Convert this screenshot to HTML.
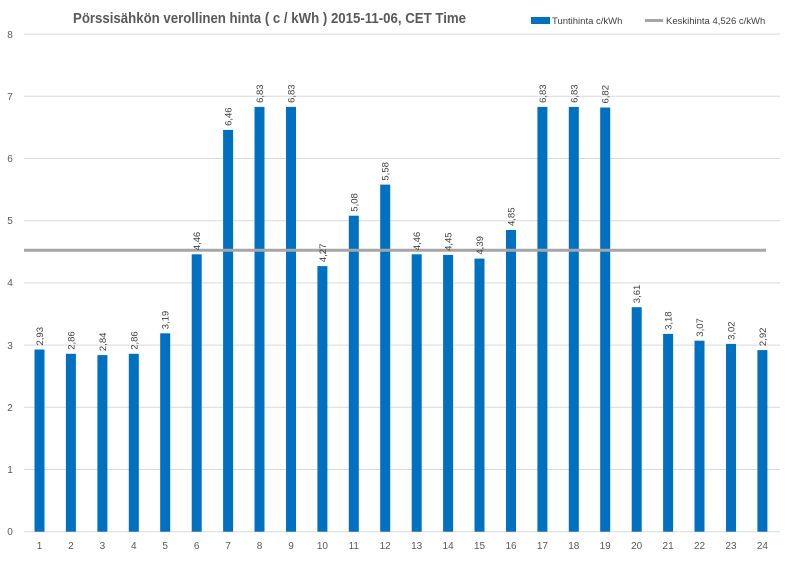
<!DOCTYPE html>
<html><head><meta charset="utf-8"><style>body{margin:0;background:#fff}svg{display:block;font-family:"Liberation Sans",sans-serif}</style></head><body>
<svg width="800" height="566" viewBox="0 0 800 566">
<rect width="800" height="566" fill="#fff"/>
<text x="73" y="23" font-size="14.5" font-weight="bold" fill="#595959" textLength="393" lengthAdjust="spacingAndGlyphs">Pörssisähkön verollinen hinta ( c / kWh ) 2015-11-06, CET Time</text>
<rect x="531" y="17" width="19" height="7" fill="#0070c0"/>
<text x="552" y="24" font-size="9.5" fill="#404040">Tuntihinta c/kWh</text>
<line x1="645" y1="20.5" x2="663" y2="20.5" stroke="#a6a6a6" stroke-width="3"/>
<text x="666" y="24" font-size="9.5" fill="#404040">Keskihinta 4,526 c/kWh</text>
<g stroke="#d9d9d9" stroke-width="1">
<line x1="24" y1="34.1" x2="780" y2="34.1"/><line x1="24" y1="96.3" x2="780" y2="96.3"/><line x1="24" y1="158.5" x2="780" y2="158.5"/><line x1="24" y1="220.7" x2="780" y2="220.7"/><line x1="24" y1="282.9" x2="780" y2="282.9"/><line x1="24" y1="345.1" x2="780" y2="345.1"/><line x1="24" y1="407.3" x2="780" y2="407.3"/><line x1="24" y1="469.5" x2="780" y2="469.5"/><line x1="24" y1="531.7" x2="780" y2="531.7"/>
</g>
<g font-size="10" fill="#595959" text-anchor="middle">
<text x="10" y="38">8</text><text x="10" y="100">7</text><text x="10" y="162">6</text><text x="10" y="224">5</text><text x="10" y="286">4</text><text x="10" y="349">3</text><text x="10" y="411">2</text><text x="10" y="473">1</text><text x="10" y="535">0</text>
</g>
<g fill="#0070c0">
<rect x="34.5" y="349.5" width="10" height="182.2"/><rect x="65.9" y="353.8" width="10" height="177.9"/><rect x="97.4" y="355.1" width="10" height="176.6"/><rect x="128.8" y="353.8" width="10" height="177.9"/><rect x="160.2" y="333.3" width="10" height="198.4"/><rect x="191.7" y="254.3" width="10" height="277.4"/><rect x="223.1" y="129.9" width="10" height="401.8"/><rect x="254.5" y="106.9" width="10" height="424.8"/><rect x="286" y="106.9" width="10" height="424.8"/><rect x="317.4" y="266.1" width="10" height="265.6"/><rect x="348.8" y="215.7" width="10" height="316"/><rect x="380.2" y="184.6" width="10" height="347.1"/><rect x="411.7" y="254.3" width="10" height="277.4"/><rect x="443.1" y="254.9" width="10" height="276.8"/><rect x="474.5" y="258.6" width="10" height="273.1"/><rect x="506" y="230" width="10" height="301.7"/><rect x="537.4" y="106.9" width="10" height="424.8"/><rect x="568.8" y="106.9" width="10" height="424.8"/><rect x="600.2" y="107.5" width="10" height="424.2"/><rect x="631.7" y="307.2" width="10" height="224.5"/><rect x="663.1" y="333.9" width="10" height="197.8"/><rect x="694.5" y="340.7" width="10" height="191"/><rect x="726" y="343.9" width="10" height="187.8"/><rect x="757.4" y="350.1" width="10" height="181.6"/>
</g>
<line x1="24" y1="250.2" x2="766" y2="250.2" stroke="#a6a6a6" stroke-width="3"/>
<g font-size="9.5" fill="#404040">
<text transform="translate(43,345.5) rotate(-90)">2,93</text>
<text transform="translate(74.4,349.8) rotate(-90)">2,86</text>
<text transform="translate(105.9,351.1) rotate(-90)">2,84</text>
<text transform="translate(137.3,349.8) rotate(-90)">2,86</text>
<text transform="translate(168.7,329.3) rotate(-90)">3,19</text>
<text transform="translate(200.2,250.3) rotate(-90)">4,46</text>
<text transform="translate(231.6,125.9) rotate(-90)">6,46</text>
<text transform="translate(263,102.9) rotate(-90)">6,83</text>
<text transform="translate(294.5,102.9) rotate(-90)">6,83</text>
<text transform="translate(325.9,262.1) rotate(-90)">4,27</text>
<text transform="translate(357.3,211.7) rotate(-90)">5,08</text>
<text transform="translate(388.7,180.6) rotate(-90)">5,58</text>
<text transform="translate(420.2,250.3) rotate(-90)">4,46</text>
<text transform="translate(451.6,250.9) rotate(-90)">4,45</text>
<text transform="translate(483,254.6) rotate(-90)">4,39</text>
<text transform="translate(514.5,226) rotate(-90)">4,85</text>
<text transform="translate(545.9,102.9) rotate(-90)">6,83</text>
<text transform="translate(577.3,102.9) rotate(-90)">6,83</text>
<text transform="translate(608.7,103.5) rotate(-90)">6,82</text>
<text transform="translate(640.2,303.2) rotate(-90)">3,61</text>
<text transform="translate(671.6,329.9) rotate(-90)">3,18</text>
<text transform="translate(703,336.7) rotate(-90)">3,07</text>
<text transform="translate(734.5,339.9) rotate(-90)">3,02</text>
<text transform="translate(765.9,346.1) rotate(-90)">2,92</text>
</g>
<g font-size="10" fill="#595959" text-anchor="middle">
<text x="39.5" y="549">1</text><text x="70.9" y="549">2</text><text x="102.4" y="549">3</text><text x="133.8" y="549">4</text><text x="165.2" y="549">5</text><text x="196.7" y="549">6</text><text x="228.1" y="549">7</text><text x="259.5" y="549">8</text><text x="291" y="549">9</text><text x="322.4" y="549">10</text><text x="353.8" y="549">11</text><text x="385.2" y="549">12</text><text x="416.7" y="549">13</text><text x="448.1" y="549">14</text><text x="479.5" y="549">15</text><text x="511" y="549">16</text><text x="542.4" y="549">17</text><text x="573.8" y="549">18</text><text x="605.2" y="549">19</text><text x="636.7" y="549">20</text><text x="668.1" y="549">21</text><text x="699.5" y="549">22</text><text x="731" y="549">23</text><text x="762.4" y="549">24</text>
</g>
</svg>
</body></html>
